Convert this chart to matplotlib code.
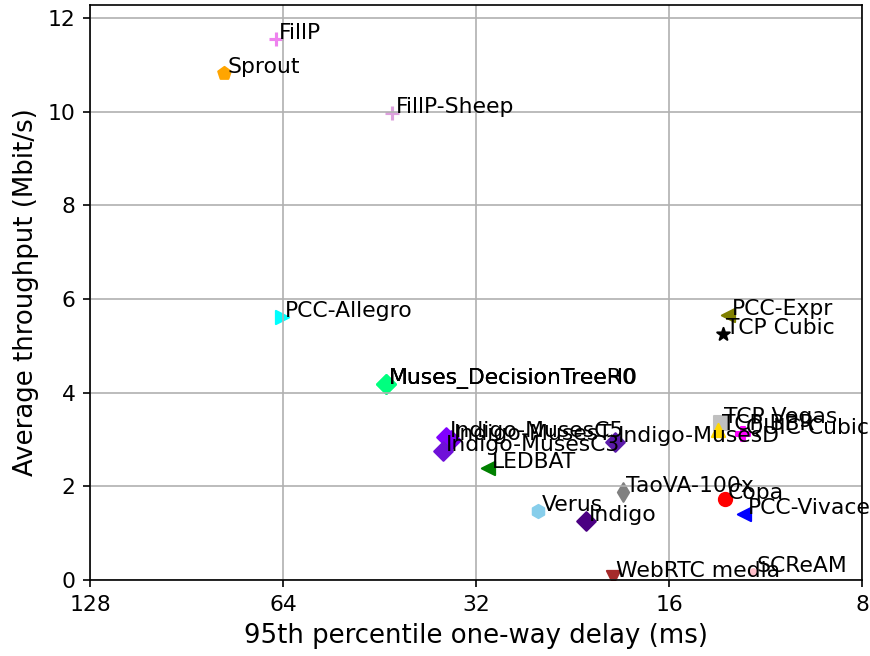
import matplotlib
matplotlib.use("Agg")
import matplotlib.pyplot as plt
from matplotlib.ticker import FixedLocator, FuncFormatter, NullLocator

# scheme names, delay (ms), throughput (Mbit/s), colour, marker
names = ["FillP", "Sprout", "FillP-Sheep", "PCC-Allegro",
         "Muses_DecisionTree", "Muses_DecisionTreeH0", "Muses_DecisionTreeR0",
         "PCC-Expr", "TCP Cubic", "TCP Vegas", "TCP BBR", "QUIC Cubic",
         "Indigo-MusesT", "Indigo-MusesC5", "Indigo-MusesC3", "Indigo-MusesD",
         "LEDBAT", "TaoVA-100x", "Copa", "PCC-Vivace", "Verus", "Indigo",
         "WebRTC media", "SCReAM"]
delay = [65.6, 79.0, 43.2, 64.3,
         44.2, 44.2, 44.2,
         12.93, 13.2, 13.29, 13.4, 12.25,
         35.0, 35.6, 36.0, 19.42,
         30.6, 18.86, 13.08, 12.21, 25.58, 21.55,
         19.55, 11.82]
tput = [11.56, 10.83, 9.98, 5.61,
        4.19, 4.19, 4.19,
        5.66, 5.25, 3.35, 3.20, 3.12,
        2.98, 3.05, 2.76, 2.95,
        2.39, 1.87, 1.73, 1.41, 1.48, 1.25,
        0.07, 0.18]
colors = ["violet", "orange", "plum", "aqua",
          "springgreen", "springgreen", "springgreen",
          "olive", "black", "silver", "gold", "magenta",
          "#7a00f0", "#8000ff", "#6f10d8", "#5a1aa8",
          "green", "gray", "red", "blue", "skyblue", "indigo",
          "brown", "pink"]
markers = ["+", "p", "+", ">",
           "D", "D", "D",
           "<", "*", "s", "^", "P",
           "D", "D", "D", "D",
           "<", "d", "o", "<", "h", "D",
           "v", "."]

fig = plt.figure(figsize=(5.8, 656 / 150), dpi=150)
ax = fig.add_axes([90 / 870, 1 - 580 / 656, 772 / 870, 575 / 656])

for i in range(len(names)):
    ax.scatter(delay[i], tput[i], color=colors[i], marker=markers[i], s=40)
    ax.annotate(names[i], (delay[i], tput[i]), xytext=(1.5, 0),
                textcoords="offset points", fontsize=10.5)

ax.set_xscale("log", base=2)
ax.set_xlim(128, 8)
ax.xaxis.set_major_locator(FixedLocator([128, 64, 32, 16, 8]))
ax.xaxis.set_minor_locator(NullLocator())
ax.xaxis.set_major_formatter(FuncFormatter(lambda v, p: "%d" % round(v)))
ax.tick_params(labelsize=10.5)
ax.set_ylim(0, 12.28)
ax.set_xlabel("95th percentile one-way delay (ms)", fontsize=12.5)
ax.set_ylabel("Average throughput (Mbit/s)", fontsize=12.5)
ax.grid()

fig.savefig("out.png", dpi=150)
